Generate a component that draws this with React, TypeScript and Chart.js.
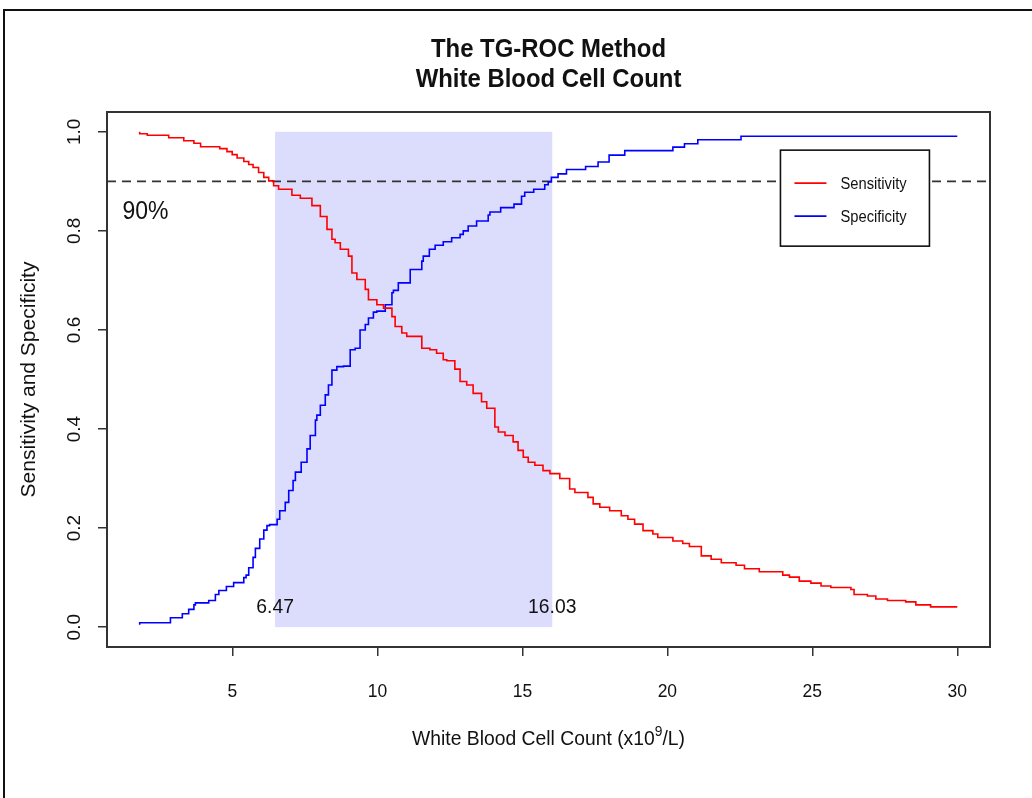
import React, { useEffect, useRef } from 'react';
import { Chart, registerables } from 'chart.js';

Chart.register(...registerables);

// ---------- data ----------
const titleLines = ['The TG-ROC Method', 'White Blood Cell Count'];
const xAxisLabelParts = ['White Blood Cell Count (x10', '9', '/L)'];
const yAxisLabel = 'Sensitivity and Specificity';
const xTickValues = [5, 10, 15, 20, 25, 30];
const yTickValues = [0, 0.2, 0.4, 0.6, 0.8, 1.0];
const xTickLabels = ['5', '10', '15', '20', '25', '30'];
const yTickLabels = ['0.0', '0.2', '0.4', '0.6', '0.8', '1.0'];
const seriesNames = ['Sensitivity', 'Specificity'];

const sensX = [1.8, 2.06, 2.8, 3.32, 3.67, 3.9, 4.56, 4.81, 4.99, 5.16, 5.39, 5.56, 5.71, 5.9, 6.08, 6.25, 6.42, 6.59, 7.05, 7.34, 7.74, 8.03, 8.26, 8.43, 8.54, 8.72, 9.0, 9.12, 9.29, 9.58, 9.69, 9.98, 10.21, 10.5, 10.61, 10.84, 11.01, 11.53, 11.81, 12.04, 12.27, 12.39, 12.67, 12.85, 13.08, 13.3, 13.59, 13.77, 14.05, 14.17, 14.4, 14.68, 14.85, 15.03, 15.2, 15.43, 15.71, 15.95, 16.29, 16.63, 16.81, 17.26, 17.44, 17.67, 18.01, 18.41, 18.64, 18.87, 19.16, 19.5, 19.67, 20.19, 20.53, 20.76, 21.17, 21.51, 21.86, 22.37, 22.66, 23.17, 23.98, 24.21, 24.55, 24.95, 25.3, 25.64, 26.33, 26.44, 26.9, 27.19, 27.59, 28.22, 28.57, 29.08, 29.6, 30.0];
const sensY = [1.0, 0.996, 0.993, 0.988, 0.982, 0.977, 0.97, 0.966, 0.96, 0.954, 0.947, 0.94, 0.934, 0.928, 0.918, 0.908, 0.901, 0.891, 0.884, 0.872, 0.866, 0.851, 0.829, 0.803, 0.783, 0.776, 0.763, 0.749, 0.715, 0.702, 0.682, 0.661, 0.651, 0.644, 0.627, 0.607, 0.594, 0.587, 0.563, 0.56, 0.553, 0.54, 0.538, 0.521, 0.496, 0.489, 0.472, 0.455, 0.442, 0.404, 0.394, 0.387, 0.374, 0.357, 0.343, 0.333, 0.327, 0.316, 0.31, 0.3, 0.279, 0.272, 0.262, 0.249, 0.242, 0.235, 0.225, 0.218, 0.208, 0.195, 0.188, 0.181, 0.174, 0.169, 0.163, 0.144, 0.137, 0.13, 0.125, 0.118, 0.112, 0.105, 0.101, 0.093, 0.089, 0.083, 0.08, 0.076, 0.066, 0.063, 0.057, 0.054, 0.051, 0.045, 0.041, 0.041];

const specX = [1.8, 2.86, 3.27, 3.49, 3.67, 3.72, 4.18, 4.41, 4.53, 4.79, 5.04, 5.39, 5.47, 5.56, 5.71, 5.79, 5.94, 6.08, 6.19, 6.28, 6.54, 6.63, 6.82, 6.94, 7.09, 7.17, 7.37, 7.57, 7.68, 7.86, 7.91, 8.03, 8.2, 8.31, 8.43, 8.6, 8.83, 9.06, 9.23, 9.4, 9.58, 9.69, 9.86, 9.98, 10.27, 10.5, 10.55, 10.72, 11.13, 11.53, 11.58, 11.79, 11.99, 12.27, 12.56, 12.85, 12.96, 13.13, 13.42, 13.82, 13.88, 14.25, 14.71, 14.97, 15.08, 15.39, 15.77, 15.89, 16.0, 16.23, 16.52, 17.18, 17.61, 17.99, 18.53, 20.19, 20.59, 21.05, 22.54, 24.27, 30.0];
const specY = [0.005, 0.009, 0.019, 0.027, 0.036, 0.045, 0.049, 0.054, 0.066, 0.074, 0.082, 0.09, 0.1, 0.105, 0.12, 0.141, 0.159, 0.178, 0.196, 0.205, 0.207, 0.218, 0.235, 0.252, 0.276, 0.296, 0.313, 0.333, 0.36, 0.387, 0.418, 0.428, 0.448, 0.469, 0.489, 0.519, 0.526, 0.527, 0.56, 0.563, 0.6, 0.611, 0.624, 0.636, 0.638, 0.651, 0.675, 0.68, 0.695, 0.722, 0.739, 0.749, 0.763, 0.771, 0.778, 0.786, 0.793, 0.8, 0.81, 0.82, 0.832, 0.838, 0.847, 0.854, 0.87, 0.878, 0.884, 0.893, 0.899, 0.908, 0.915, 0.924, 0.93, 0.939, 0.953, 0.962, 0.969, 0.976, 0.984, 0.991, 0.991];

const cutoffValues = [6.47, 16.03];
const cutoffLabels = ['6.47', '16.03'];
const thresholdValue = 0.9;
const thresholdLabel = '90%';

// ---------- styling helpers ----------
const FONT = '"Liberation Sans", Arial, Helvetica, sans-serif';
const SX = 0.92;
const TEXT = '#111';

function hText(ctx: CanvasRenderingContext2D, text: string, x: number, y: number, size: number, align: CanvasTextAlign = 'center', bold = false) {
  ctx.save();
  ctx.font = `${bold ? 'bold ' : ''}${size}px ${FONT}`;
  ctx.fillStyle = TEXT;
  ctx.textAlign = align;
  ctx.textBaseline = 'alphabetic';
  ctx.translate(x, y);
  ctx.scale(SX, 1);
  ctx.fillText(text, 0, 0);
  ctx.restore();
}

function vText(ctx: CanvasRenderingContext2D, text: string, x: number, y: number, size: number) {
  ctx.save();
  ctx.font = `${size}px ${FONT}`;
  ctx.fillStyle = TEXT;
  ctx.textAlign = 'center';
  ctx.textBaseline = 'alphabetic';
  ctx.translate(x, y);
  ctx.rotate(-Math.PI / 2);
  ctx.scale(1, SX);
  ctx.fillText(text, 0, 0);
  ctx.restore();
}

const decorPlugin = {
  id: 'decor',
  beforeDraw(chart: any) {
    const ctx = chart.ctx as CanvasRenderingContext2D;
    ctx.save();
    ctx.fillStyle = '#fff';
    ctx.fillRect(0, 0, chart.width, chart.height);
    ctx.strokeStyle = '#111';
    ctx.lineWidth = 2;
    ctx.strokeRect(4, 10, chart.width + 50, chart.height + 50);
    ctx.restore();
  },
  beforeDatasetsDraw(chart: any) {
    const ctx = chart.ctx as CanvasRenderingContext2D;
    const xs = chart.scales.x, ys = chart.scales.y;
    const a = chart.chartArea;
    ctx.save();
    // shaded band between cutoffs
    const x0 = xs.getPixelForValue(cutoffValues[0]);
    const x1 = xs.getPixelForValue(cutoffValues[1]);
    const y0 = ys.getPixelForValue(0);
    const y1 = ys.getPixelForValue(1);
    ctx.fillStyle = 'rgb(220,220,253)';
    ctx.fillRect(x0, y1, x1 - x0, y0 - y1);
    // threshold dashed line
    const yt = ys.getPixelForValue(thresholdValue);
    ctx.strokeStyle = '#333';
    ctx.lineWidth = 1.6;
    ctx.setLineDash([9, 6]);
    ctx.beginPath();
    ctx.moveTo(a.left, yt);
    ctx.lineTo(a.right, yt);
    ctx.stroke();
    ctx.restore();
  },
  afterDatasetsDraw(chart: any) {
    const ctx = chart.ctx as CanvasRenderingContext2D;
    const xs = chart.scales.x, ys = chart.scales.y;
    const a = chart.chartArea;
    ctx.save();
    // plot box
    ctx.strokeStyle = '#333';
    ctx.lineWidth = 2;
    ctx.strokeRect(a.left, a.top, a.right - a.left, a.bottom - a.top);

    // annotations
    hText(ctx, thresholdLabel, xs.getPixelForValue(2.0), ys.getPixelForValue(0.84) + 8, 25);
    cutoffValues.forEach((v, i) => {
      hText(ctx, cutoffLabels[i], xs.getPixelForValue(v), ys.getPixelForValue(0.045) + 8, 21);
    });

    // legend
    const lx = xs.getPixelForValue(23.9);
    const ly = ys.getPixelForValue(0.963);
    const lw = 149, lh = 96;
    ctx.fillStyle = '#fff';
    ctx.fillRect(lx, ly, lw, lh);
    ctx.strokeStyle = '#111';
    ctx.lineWidth = 1.6;
    ctx.strokeRect(lx, ly, lw, lh);
    const colors = ['#ff0000', '#0000ff'];
    seriesNames.forEach((name, i) => {
      const yy = ly + 33 + i * 33;
      ctx.strokeStyle = colors[i];
      ctx.lineWidth = 1.6;
      ctx.beginPath();
      ctx.moveTo(lx + 14, yy);
      ctx.lineTo(lx + 46, yy);
      ctx.stroke();
      hText(ctx, name, lx + 60, yy + 5.5, 16, 'left');
    });

    // x tick labels
    xTickValues.forEach((v, i) => {
      hText(ctx, xTickLabels[i], xs.getPixelForValue(v), 697, 19);
    });
    // y tick labels
    yTickValues.forEach((v, i) => {
      vText(ctx, yTickLabels[i], 80, ys.getPixelForValue(v), 19);
    });

    // titles
    const cx = (a.left + a.right) / 2;
    hText(ctx, titleLines[0], cx, 57, 26, 'center', true);
    hText(ctx, titleLines[1], cx, 87, 26, 'center', true);

    // x axis label with superscript
    const big = 21, small = 15;
    ctx.font = `${big}px ${FONT}`;
    const w1 = ctx.measureText(xAxisLabelParts[0]).width;
    const w3 = ctx.measureText(xAxisLabelParts[2]).width;
    ctx.font = `${small}px ${FONT}`;
    const w2 = ctx.measureText(xAxisLabelParts[1]).width;
    const total = (w1 + w2 + w3) * SX;
    let sx0 = cx - total / 2;
    const by = 745;
    hText(ctx, xAxisLabelParts[0], sx0, by, big, 'left');
    sx0 += w1 * SX;
    hText(ctx, xAxisLabelParts[1], sx0, by - 9, small, 'left');
    sx0 += w2 * SX;
    hText(ctx, xAxisLabelParts[2], sx0, by, big, 'left');

    // y axis label
    vText(ctx, yAxisLabel, 35, (a.top + a.bottom) / 2, 21);
    ctx.restore();
  },
};

export default function App() {
  const canvasRef = useRef<HTMLCanvasElement | null>(null);

  useEffect(() => {
    document.body.style.margin = '0';
    const canvas = canvasRef.current;
    if (!canvas) return;
    const chart = new Chart(canvas, {
      type: 'line',
      data: {
        datasets: [
          {
            label: seriesNames[0],
            data: sensX.map((x, i) => ({ x, y: sensY[i] })),
            borderColor: '#ff0000',
            borderWidth: 1.6,
            pointRadius: 0,
            stepped: 'after',
            fill: false,
          },
          {
            label: seriesNames[1],
            data: specX.map((x, i) => ({ x, y: specY[i] })),
            borderColor: '#0000ff',
            borderWidth: 1.6,
            pointRadius: 0,
            stepped: 'after',
            fill: false,
          },
        ],
      },
      options: {
        animation: false,
        responsive: false,
        maintainAspectRatio: false,
        layout: { padding: { left: 57, right: 42, top: 112, bottom: 101 } },
        plugins: {
          legend: { display: false },
          title: { display: false },
          tooltip: { enabled: false },
        },
        scales: {
          x: {
            type: 'linear',
            min: 0.672,
            max: 31.128,
            afterBuildTicks: (s: any) => { s.ticks = xTickValues.map((v) => ({ value: v })); },
            afterFit: (s: any) => { s.height = 50; },
            ticks: { display: false },
            grid: { display: true, drawOnChartArea: false, drawTicks: true, tickLength: 9, color: '#333', lineWidth: 1.5 },
            border: { display: false },
          },
          y: {
            type: 'linear',
            min: -0.04,
            max: 1.04,
            afterBuildTicks: (s: any) => { s.ticks = yTickValues.map((v) => ({ value: v })); },
            afterFit: (s: any) => { s.width = 50; },
            ticks: { display: false },
            grid: { display: true, drawOnChartArea: false, drawTicks: true, tickLength: 9, color: '#333', lineWidth: 1.5 },
            border: { display: false },
          },
        },
      },
      plugins: [decorPlugin],
    });
    return () => chart.destroy();
  }, []);

  return (
    <div style={{ width: 1032, height: 798 }}>
      <canvas ref={canvasRef} width={1032} height={798} style={{ display: 'block', width: 1032, height: 798 }} />
    </div>
  );
}
